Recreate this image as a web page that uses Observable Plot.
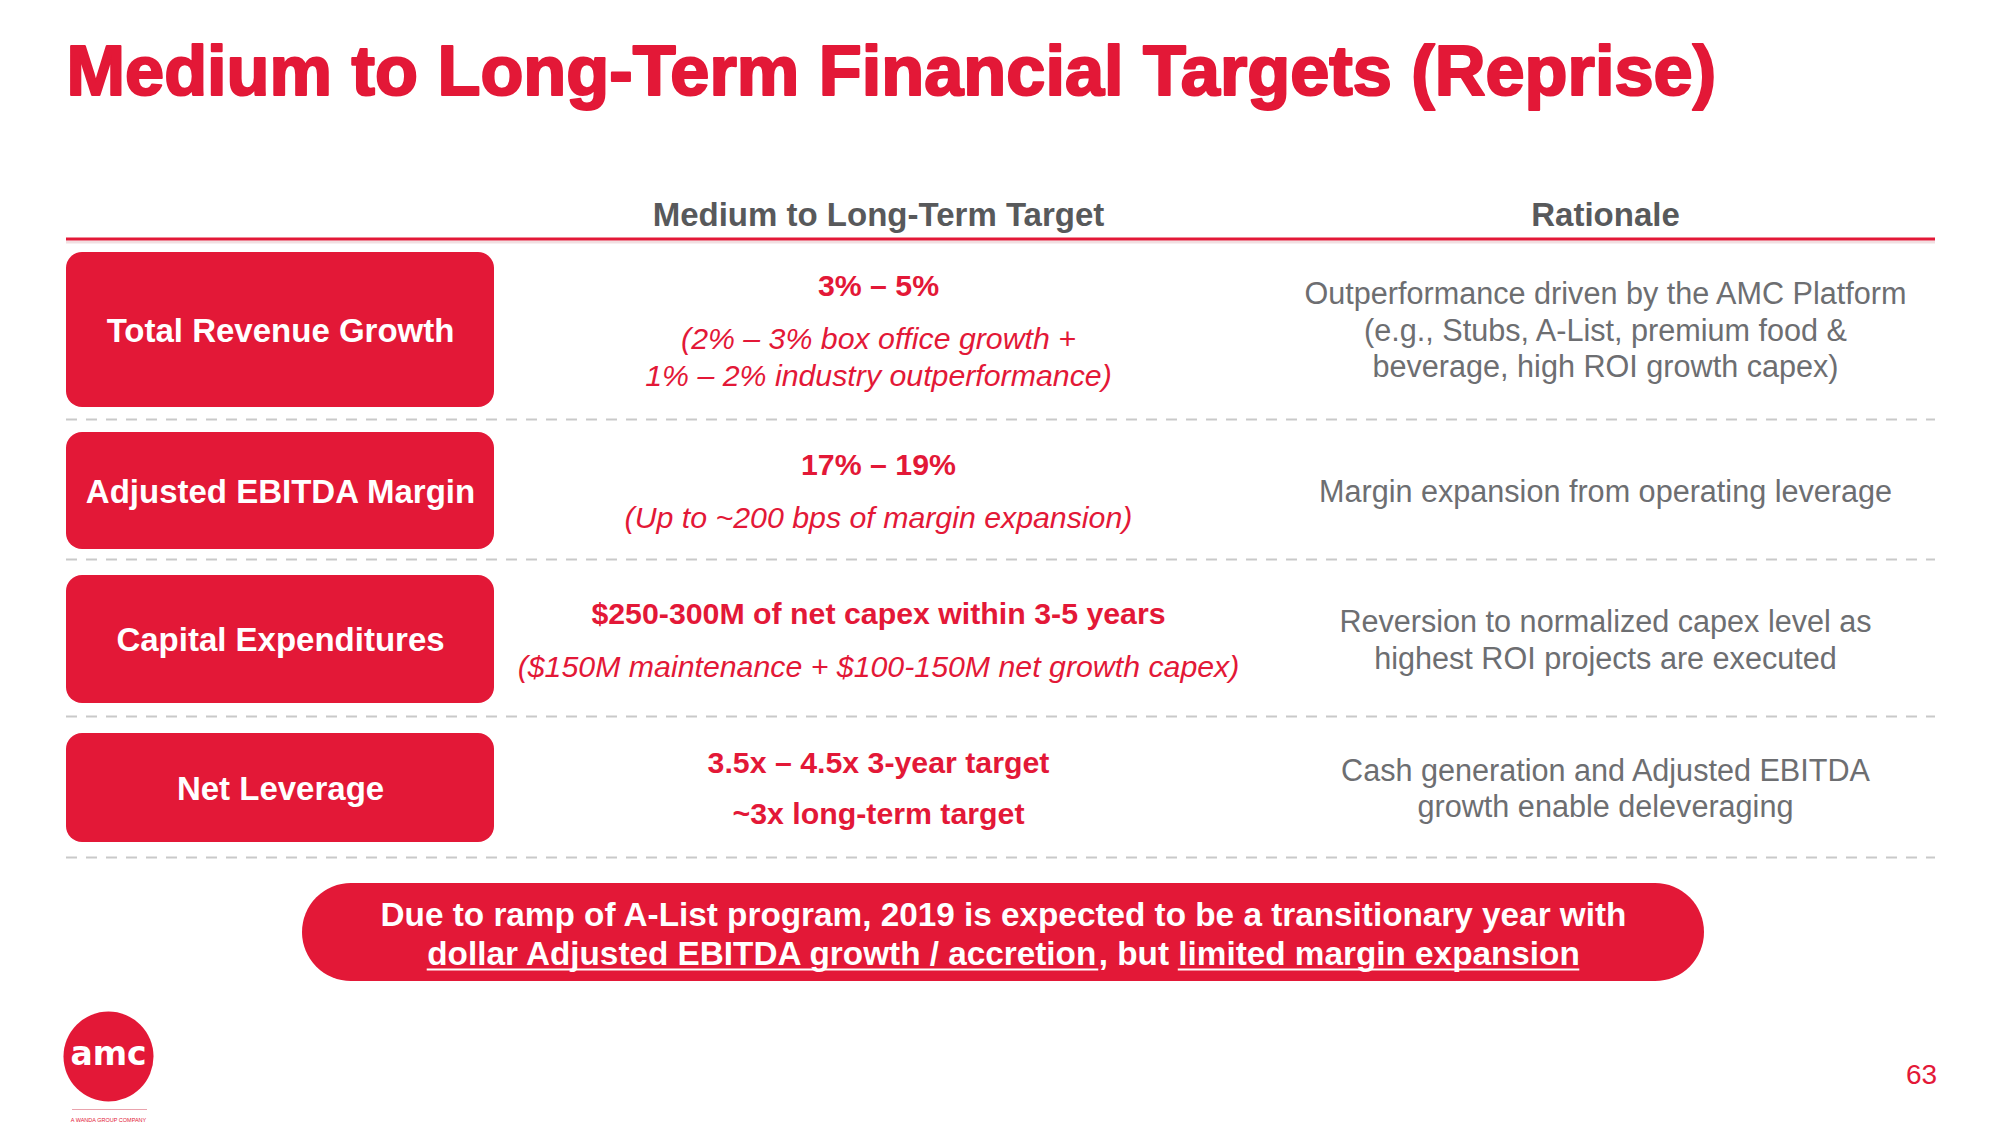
<!DOCTYPE html>
<html>
<head>
<meta charset="utf-8">
<script src="https://cdn.jsdelivr.net/npm/d3@7"></script>
<script src="https://cdn.jsdelivr.net/npm/@observablehq/plot@0.6"></script>
<style>
  html, body { margin: 0; padding: 0; background: #ffffff; overflow: hidden; }
  #chart svg { display: block; }
</style>
</head>
<body>
<div id="chart"></div>
<script>
// ---------- DATA ----------
const titleText = "Medium to Long-Term Financial Targets (Reprise)";
const columnHeaders = ["Medium to Long-Term Target", "Rationale"];
const metrics = ["Total Revenue Growth", "Adjusted EBITDA Margin", "Capital Expenditures", "Net Leverage"];
const targetLines = [
  ["3% – 5%"],
  ["17% – 19%"],
  ["$250-300M of net capex within 3-5 years"],
  ["3.5x – 4.5x 3-year target", "~3x long-term target"]
];
const targetNotes = [
  ["(2% – 3% box office growth +", "1% – 2% industry outperformance)"],
  ["(Up to ~200 bps of margin expansion)"],
  ["($150M maintenance + $100-150M net growth capex)"],
  []
];
const rationaleLines = [
  ["Outperformance driven by the AMC Platform", "(e.g., Stubs, A-List, premium food &", "beverage, high ROI growth capex)"],
  ["Margin expansion from operating leverage"],
  ["Reversion to normalized capex level as", "highest ROI projects are executed"],
  ["Cash generation and Adjusted EBITDA", "growth enable deleveraging"]
];
const bannerLine1 = "Due to ramp of A-List program, 2019 is expected to be a transitionary year with";
const bannerLine2Parts = ["dollar Adjusted EBITDA growth / accretion", ", but ", "limited margin expansion"];
const bannerUnderlined = [true, false, true];
const logoText = "amc";
const logoTagline = "A WANDA GROUP COMPANY";
const pageNumber = "63";

// ---------- LAYOUT & STYLE ----------
const W = 2000, H = 1125;
const RED = "#E31837";
const HEAD_GRAY = "#58595B";
const TEXT_GRAY = "#6D6E71";
const FONT = "'Liberation Sans', Arial, Helvetica, sans-serif";
const L = {
  left: 66, right: 1935,
  titleX: 66, titleBaseline: 94, titleSize: 70.3,
  headerBaseline: 225, headerRule: 238.5, headerSize: 33,
  headerX: [878, 1605],
  boxX1: 66, boxX2: 494, boxRadius: 16,
  targetX: 878, rationaleX: 1605,
  targetSize: 30.3, rationaleSize: 30.6,
  rowTop: [252, 432, 575, 733],
  rowBottom: [407, 549, 703, 842],
  dividers: [419, 559, 716, 857],
  capHalf: 10.75, boldGap: 51, boldToNote: 53, noteGap: 37, rationaleGap: 36.5,
  banner: {x1: 302, x2: 1704, y1: 883, y2: 981, cx: 1003, baselines: [925, 964], fontSize: 33.3, underlineOffset: 5},
  logo: {cx: 108, cy: 1056, r: 45, lineY: 1109, lineX1: 72, lineX2: 147, tagY: 1121},
  page: {x: 1921, y: 1083}
};

// ---------- DERIVED TABLES ----------
const rows = metrics.map((m, i) => ({
  label: m, top: L.rowTop[i], bottom: L.rowBottom[i], c: (L.rowTop[i] + L.rowBottom[i]) / 2
}));

const targetRows = [];
rows.forEach((r, i) => {
  const items = targetLines[i].map(t => ({text: t, bold: true}))
    .concat(targetNotes[i].map(t => ({text: t, bold: false})));
  let off = 0;
  items.forEach((it, k) => {
    if (k > 0) {
      const prev = items[k - 1];
      off += prev.bold && it.bold ? L.boldGap : prev.bold ? L.boldToNote : L.noteGap;
    }
    it.off = off;
  });
  const span = off;
  items.forEach(it => targetRows.push({text: it.text, bold: it.bold, y: r.c + L.capHalf - span / 2 + it.off}));
});

const rationaleRows = [];
rows.forEach((r, i) => {
  const n = rationaleLines[i].length;
  rationaleLines[i].forEach((t, k) => rationaleRows.push({
    text: t, y: r.c + L.capHalf - (n - 1) * L.rationaleGap / 2 + k * L.rationaleGap
  }));
});

// measure banner line 2 segments so underlines fall under the right words
const ctx = document.createElement("canvas").getContext("2d");
ctx.font = `bold ${L.banner.fontSize}px 'Liberation Sans', Arial, sans-serif`;
const segWidths = bannerLine2Parts.map(s => ctx.measureText(s).width);
const totalW = d3.sum(segWidths);
let cursor = L.banner.cx - totalW / 2;
const bannerSegs = bannerLine2Parts.map((s, i) => {
  const seg = {text: s, x1: cursor, x2: cursor + segWidths[i], underline: bannerUnderlined[i]};
  cursor += segWidths[i];
  return seg;
});

// ---------- PLOT ----------
const chart = Plot.plot({
  width: W, height: H, margin: 0,
  x: {domain: [0, W], range: [0, W], axis: null},
  y: {domain: [0, H], range: [0, H], axis: null},
  style: {fontFamily: FONT, background: "#ffffff", overflow: "visible"},
  marks: [
    // title
    Plot.text([titleText], {
      x: () => L.titleX, y: () => L.titleBaseline, text: d => d,
      textAnchor: "start", lineAnchor: "bottom",
      fontSize: L.titleSize, fontWeight: "bold", fill: RED,
      stroke: RED, strokeWidth: 2.2, strokeLinejoin: "round"
    }),
    // column headers
    Plot.text(columnHeaders, {
      x: (d, i) => L.headerX[i], y: () => L.headerBaseline, text: d => d,
      lineAnchor: "bottom", fontSize: L.headerSize, fontWeight: "bold", fill: HEAD_GRAY
    }),
    // header rule + faint shadow
    Plot.ruleY([L.headerRule + 3], {x1: () => L.left, x2: () => L.right, stroke: "#f1dfe1", strokeWidth: 3}),
    Plot.ruleY([L.headerRule], {x1: () => L.left, x2: () => L.right, stroke: RED, strokeWidth: 3}),
    // dashed dividers
    Plot.ruleY(L.dividers, {
      y: d => d, x1: () => L.left, x2: () => L.right,
      stroke: "#C9C9C9", strokeWidth: 2, strokeDasharray: "11,9"
    }),
    // metric boxes
    Plot.rect(rows, {
      x1: () => L.boxX1, x2: () => L.boxX2, y1: "top", y2: "bottom",
      rx: L.boxRadius, fill: RED
    }),
    Plot.text(rows, {
      x: () => (L.boxX1 + L.boxX2) / 2, y: d => d.c + 11.8, text: "label",
      lineAnchor: "bottom", fontSize: 33, fontWeight: "bold", fill: "#ffffff"
    }),
    // target column
    Plot.text(targetRows.filter(d => d.bold), {
      x: () => L.targetX, y: "y", text: "text",
      lineAnchor: "bottom", fontSize: L.targetSize, fontWeight: "bold", fill: RED
    }),
    Plot.text(targetRows.filter(d => !d.bold), {
      x: () => L.targetX, y: "y", text: "text",
      lineAnchor: "bottom", fontSize: L.targetSize, fontStyle: "italic", fill: RED
    }),
    // rationale column
    Plot.text(rationaleRows, {
      x: () => L.rationaleX, y: "y", text: "text",
      lineAnchor: "bottom", fontSize: L.rationaleSize, fill: TEXT_GRAY
    }),
    // banner
    Plot.rect([L.banner], {
      x1: d => d.x1, x2: d => d.x2, y1: d => d.y1, y2: d => d.y2,
      rx: (L.banner.y2 - L.banner.y1) / 2, fill: RED
    }),
    Plot.text([bannerLine1], {
      x: () => L.banner.cx, y: () => L.banner.baselines[0], text: d => d,
      lineAnchor: "bottom", fontSize: L.banner.fontSize, fontWeight: "bold", fill: "#ffffff"
    }),
    Plot.text(bannerSegs, {
      x: "x1", y: () => L.banner.baselines[1], text: "text", textAnchor: "start",
      lineAnchor: "bottom", fontSize: L.banner.fontSize, fontWeight: "bold", fill: "#ffffff"
    }),
    Plot.ruleY(bannerSegs.filter(d => d.underline), {
      y: () => L.banner.baselines[1] + L.banner.underlineOffset, x1: "x1", x2: "x2",
      stroke: "#ffffff", strokeWidth: 2
    }),
    // logo
    Plot.dot([L.logo], {x: d => d.cx, y: d => d.cy, r: L.logo.r, fill: RED, stroke: null}),
    Plot.text([logoText], {
      x: () => L.logo.cx, y: () => L.logo.cy + 8, text: d => d,
      lineAnchor: "bottom", fontSize: 33, fontWeight: "bold", fill: "#ffffff",
      fontFamily: "'DejaVu Sans', sans-serif"
    }),
    Plot.ruleY([L.logo.lineY], {x1: () => L.logo.lineX1, x2: () => L.logo.lineX2, stroke: "#E9A3AD", strokeWidth: 1}),
    Plot.text([logoTagline], {
      x: () => L.logo.cx, y: () => L.logo.tagY, text: d => d,
      lineAnchor: "bottom", fontSize: 5.5, fill: RED
    }),
    // page number
    Plot.text([pageNumber], {
      x: () => L.page.x, y: () => L.page.y, text: d => d,
      lineAnchor: "bottom", fontSize: 28, fill: RED
    })
  ]
});
document.getElementById("chart").appendChild(chart);
</script>
</body>
</html>
